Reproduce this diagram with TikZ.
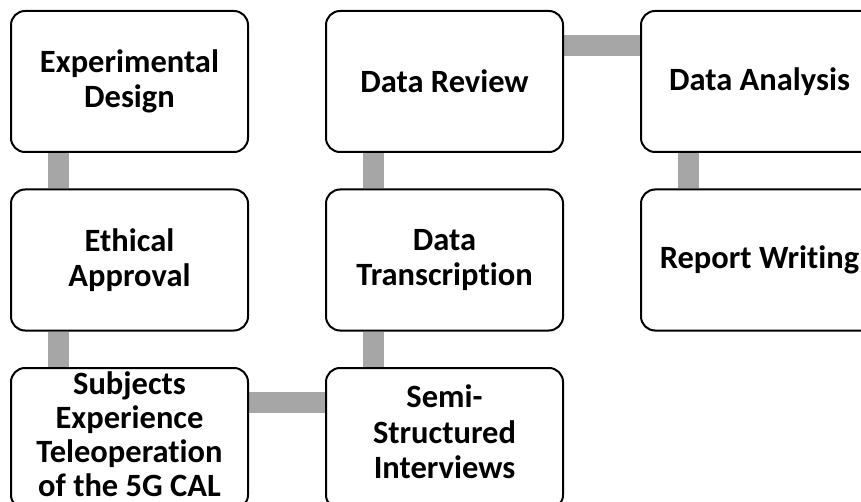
\documentclass[tikz,border=0pt]{standalone}
\usepackage{fontspec}
\setmainfont{Carlito}[Ligatures=NoCommon]
\usetikzlibrary{positioning, backgrounds}
\definecolor{linkgray}{HTML}{A6A6A6}

\begin{document}
\begin{tikzpicture}[
    x=1pt, y=1pt,
    node distance=35.5pt and 76pt,
    stage/.style={draw=black, line width=2pt, fill=white, rounded corners=14pt,
      minimum width=237pt, minimum height=141pt, inner sep=0pt, align=center,
      font=\fontsize{32.5}{35.5}\selectfont\bfseries},
    lifted/.style={text depth=#1}, % last line has no descender
    lifted/.default=13pt,
    link/.style={linkgray, line width=21pt},
  ]

  % Page frame
  \clip (0,0) rectangle (861,-502);

  % Left column
  \node[stage, anchor=north west] (design) at (10,-10) {Experimental\\Design};
  \node[stage, below=of design] (ethics) {Ethical\\Approval};
  \node[stage, lifted=8pt, font=\fontsize{32.5}{34}\selectfont\bfseries,
    below=of ethics] (subjects)
    {Subjects\\Experience\\Teleoperation\\of the 5G CAL};

  % Middle column
  \node[stage, lifted, right=of subjects] (interviews) {Semi-\\Structured\\Interviews};
  \node[stage, above=of interviews] (transcript) {Data\\Transcription};
  \node[stage, above=of transcript] (review) {Data Review};

  % Right column
  \node[stage, right=of review] (analysis) {Data Analysis};
  \node[stage, below=of analysis] (report) {Report Writing};

  % Gray links behind the boxes
  \begin{scope}[on background layer]
    \draw[link] ([xshift=48pt]design.south west) -- ([xshift=48pt]ethics.north west);
    \draw[link] ([xshift=48pt]ethics.south west) -- ([xshift=48pt]subjects.north west);
    \draw[link] ([yshift=-35.5pt]subjects.north east) -- ([yshift=-35.5pt]interviews.north west);
    \draw[link] ([xshift=48pt]interviews.north west) -- ([xshift=48pt]transcript.south west);
    \draw[link] ([xshift=48pt]transcript.north west) -- ([xshift=48pt]review.south west);
    \draw[link] ([yshift=-35.5pt]review.north east) -- ([yshift=-35.5pt]analysis.north west);
    \draw[link] ([xshift=48pt]analysis.south west) -- ([xshift=48pt]report.north west);
  \end{scope}

\end{tikzpicture}
\end{document}
